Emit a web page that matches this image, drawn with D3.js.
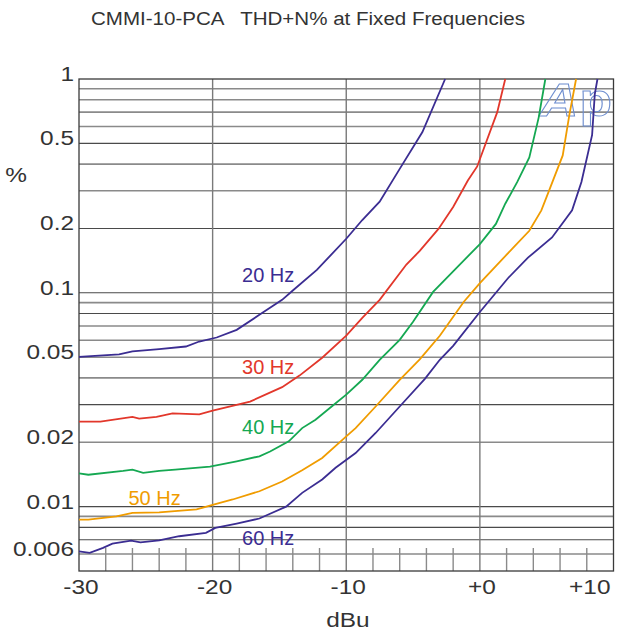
<!DOCTYPE html>
<html>
<head>
<meta charset="utf-8">
<script src="https://cdn.jsdelivr.net/npm/d3@7"></script>
<style>
  body { margin: 0; background: #fff; }
  svg text { font-family: "Liberation Sans", Arial, sans-serif; }
</style>
</head>
<body>
<div id="chart"></div>
<script>
// THD+N% vs level, one pair of arrays per frequency
const dbu20 = [-30, -28.5, -27, -26, -24, -22, -21, -19.7, -18.2, -16.5, -14.8, -14, -12.2, -10, -8.8, -7.5, -6, -4.3, -2.6];
const thd20 = [0.0502, 0.0508, 0.0515, 0.0532, 0.0545, 0.0561, 0.0592, 0.0618, 0.0671, 0.0789, 0.0927, 0.1025, 0.128, 0.179, 0.219, 0.267, 0.38, 0.565, 1.0];

const dbu30 = [-30, -28.4, -26, -25.5, -24.2, -23, -21, -20, -17.2, -14.8, -13.5, -11.8, -10, -8.8, -7.5, -5.5, -4.5, -3.1, -2, -0.9, -0.2, 1.3, 1.9];
const thd30 = [0.025, 0.025, 0.0263, 0.0258, 0.0263, 0.0273, 0.027, 0.0281, 0.031, 0.0362, 0.041, 0.0497, 0.063, 0.0764, 0.0927, 0.1356, 0.157, 0.199, 0.252, 0.335, 0.39, 0.70, 1.0];

const dbu40 = [-30, -29.3, -26.7, -26, -25.2, -24, -22.8, -20.2, -18.2, -16.5, -15.7, -14.3, -13.3, -12.3, -11, -10, -8.8, -7.5, -6, -5, -3.5, -2, 0, 1.2, 1.9, 2.8, 3.7, 4.4, 4.9];
const thd40 = [0.0143, 0.0141, 0.0147, 0.0149, 0.0144, 0.0147, 0.0149, 0.0154, 0.0163, 0.0172, 0.0181, 0.0202, 0.0233, 0.0255, 0.0297, 0.0334, 0.0392, 0.0486, 0.0603, 0.0732, 0.101, 0.126, 0.169, 0.21, 0.261, 0.33, 0.43, 0.66, 1.0];

const dbu50 = [-30, -29.3, -27.2, -26, -24, -21.2, -20, -18.5, -16.5, -14.8, -13.3, -11.8, -10, -9.3, -7.8, -6, -4.5, -3, -1.2, 0, 1.3, 2.5, 3.7, 4.6, 5.2, 6.2, 6.7, 7.2];
const thd50 = [0.0087, 0.0087, 0.009, 0.00935, 0.0094, 0.0097, 0.0102, 0.0108, 0.0118, 0.0131, 0.0148, 0.0169, 0.0213, 0.0233, 0.0294, 0.0392, 0.0488, 0.063, 0.0908, 0.111, 0.1356, 0.1626, 0.195, 0.243, 0.303, 0.439, 0.682, 1.0];

const dbu60 = [-30, -29.2, -28.2, -27.5, -26.1, -25.4, -24, -22.5, -20.5, -19.8, -18.2, -16.5, -14.5, -13.3, -11.8, -10.8, -9.3, -7.8, -6, -4.1, -3, -2, 0, 2.1, 3.6, 5.4, 6.9, 7.6, 8.4, 8.6, 8.8];
const thd60 = [0.00618, 0.00608, 0.00641, 0.00671, 0.00693, 0.00681, 0.00696, 0.00727, 0.00754, 0.00795, 0.00833, 0.0088, 0.01, 0.0116, 0.0134, 0.0152, 0.0178, 0.0221, 0.0294, 0.0397, 0.0486, 0.0565, 0.0813, 0.117, 0.146, 0.1815, 0.243, 0.33, 0.548, 0.85, 1.0];

const seriesNames = ["20 Hz", "30 Hz", "40 Hz", "50 Hz", "60 Hz"];
const seriesColors = ["#3b2d92", "#e2372b", "#15a852", "#f09c00", "#3b2d92"];
// where each label sits (dBu, %)
const labelDbu = [-17.8, -17.8, -17.8, -26.3, -17.8];
const labelThd = [0.1125, 0.0417, 0.0219, 0.0102, 0.0066];

const xTicks = [-30, -20, -10, 0, 10];
const xTickText = ["-30", "-20", "-10", "+0", "+10"];
const xMinor = [-28, -26, -24, -22, -18, -16, -14, -12, -8, -6, -4, -2, 2, 4, 6, 8];
const yTicks = [1, 0.5, 0.2, 0.1, 0.05, 0.02, 0.01, 0.006];
const yTickText = ["1", "0.5", "0.2", "0.1", "0.05", "0.02", "0.01", "0.006"];
const yGrid = [0.9, 0.8, 0.7, 0.6, 0.5, 0.4, 0.3, 0.2, 0.1, 0.09, 0.08, 0.07, 0.06, 0.05, 0.04, 0.03, 0.02,
               0.01, 0.009, 0.008, 0.007, 0.006];
const yGridDark = [0.5, 0.2, 0.1, 0.08, 0.03, 0.01, 0.008, 0.007];

const width = 621, height = 632;
const margin = {top: 79, right: 7.5, bottom: 61, left: 79};

const svg = d3.select('#chart')
    .append('svg')
    .attr('width', width)
    .attr('height', height);

const x = d3.scaleLinear()
    .domain([-30, 10])
    .range([margin.left, width - margin.right]);
const y = d3.scaleLog()
    .domain([0.005, 1])
    .range([height - margin.bottom, margin.top]);

// the original lettering is a wide sans, so stretch the black text a bit
function widen(sel, k) {
    sel.each(function () {
        const w = this.getComputedTextLength();
        d3.select(this)
            .attr('textLength', w * k)
            .attr('lengthAdjust', 'spacingAndGlyphs');
    });
}

// horizontal grid
svg.append('g')
    .selectAll('line')
    .data(yGrid)
    .enter()
    .append('line')
    .attr('x1', margin.left)
    .attr('x2', width - margin.right)
    .attr('y1', d => y(d))
    .attr('y2', d => y(d))
    .attr('stroke', d => yGridDark.includes(d) ? '#4a4a4a' : '#8a8a8a')
    .attr('stroke-width', d => yGridDark.includes(d) ? 1.1 : 1.6);

// vertical grid
svg.append('g')
    .selectAll('line')
    .data([-20, -10, 0])
    .enter()
    .append('line')
    .attr('x1', d => x(d))
    .attr('x2', d => x(d))
    .attr('y1', margin.top)
    .attr('y2', height - margin.bottom)
    .attr('stroke', '#7a7a7a')
    .attr('stroke-width', 1.4);

// short ticks along the bottom
svg.append('g')
    .selectAll('line')
    .data(xMinor)
    .enter()
    .append('line')
    .attr('x1', d => x(d))
    .attr('x2', d => x(d))
    .attr('y1', height - margin.bottom - 23)
    .attr('y2', height - margin.bottom)
    .attr('stroke', '#8a8a8a')
    .attr('stroke-width', 1.4);

// frame
svg.append('rect')
    .attr('x', margin.left)
    .attr('y', margin.top)
    .attr('width', width - margin.left - margin.right)
    .attr('height', height - margin.top - margin.bottom)
    .attr('fill', 'none')
    .attr('stroke', '#3a3a3a')
    .attr('stroke-width', 1.3);

// Ap logo
const logo = svg.append('text')
    .attr('x', 540)
    .attr('y', 116)
    .attr('font-size', 47)
    .attr('font-weight', 'bold')
    .attr('fill', 'none')
    .attr('stroke', '#6f8fd0')
    .attr('stroke-width', 1)
    .attr('textLength', 72)
    .attr('lengthAdjust', 'spacingAndGlyphs');
logo.append('tspan').attr('font-style', 'italic').text('A');
logo.append('tspan').attr('dx', 1).text('p');

// curves
const dbus = [dbu20, dbu30, dbu40, dbu50, dbu60];
const thds = [thd20, thd30, thd40, thd50, thd60];
const line = d3.line()
    .x(d => x(d[0]))
    .y(d => y(d[1]));

dbus.forEach((xs, i) => {
    const pts = xs.map((v, j) => [v, thds[i][j]]);
    svg.append('path')
        .attr('d', line(pts))
        .attr('fill', 'none')
        .attr('stroke', seriesColors[i])
        .attr('stroke-width', 1.8);
    svg.append('text')
        .attr('x', x(labelDbu[i]))
        .attr('y', y(labelThd[i]))
        .attr('font-size', 20)
        .attr('fill', seriesColors[i])
        .text(seriesNames[i]);
});

// y tick labels
svg.append('g')
    .selectAll('text')
    .data(yTicks)
    .enter()
    .append('text')
    .attr('x', margin.left - 5)
    .attr('y', d => y(d) + 2)
    .attr('text-anchor', 'end')
    .attr('font-size', 20)
    .attr('fill', '#333')
    .text((d, i) => yTickText[i])
    .call(widen, 1.22);

// x tick labels
svg.append('g')
    .selectAll('text')
    .data(xTicks)
    .enter()
    .append('text')
    .attr('x', d => d == 10 ? x(d) - 3 : x(d) + 2)
    .attr('y', height - margin.bottom + 23)
    .attr('text-anchor', d => d == 10 ? 'end' : 'middle')
    .attr('font-size', 20)
    .attr('fill', '#333')
    .text((d, i) => xTickText[i])
    .call(widen, 1.22);

// axis titles
svg.append('text')
    .attr('x', 348)
    .attr('y', 627)
    .attr('text-anchor', 'middle')
    .attr('font-size', 20)
    .attr('fill', '#333')
    .text('dBu')
    .call(widen, 1.22);

svg.append('text')
    .attr('x', 16)
    .attr('y', 182)
    .attr('text-anchor', 'middle')
    .attr('font-size', 20)
    .attr('fill', '#333')
    .text('%')
    .call(widen, 1.22);

svg.append('text')
    .attr('x', 308)
    .attr('y', 25)
    .attr('text-anchor', 'middle')
    .attr('font-size', 18)
    .attr('fill', '#333')
    .attr('xml:space', 'preserve')
    .style('white-space', 'pre')
    .text('CMMI-10-PCA   THD+N% at Fixed Frequencies')
    .attr('textLength', 434)
    .attr('lengthAdjust', 'spacingAndGlyphs');
</script>
</body>
</html>
